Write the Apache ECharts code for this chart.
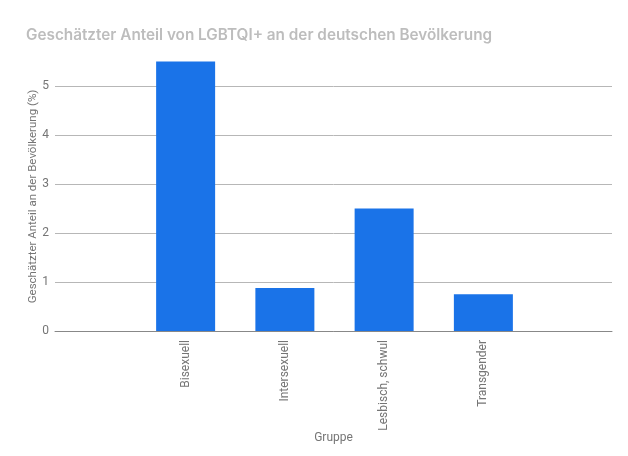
<!DOCTYPE html>
<html><head><meta charset="utf-8">
<script src="https://cdn.jsdelivr.net/npm/echarts@6/dist/echarts.min.js"></script>
<style>html,body{margin:0;padding:0;background:#fff}#c{width:628px;height:456px}</style>
</head><body><div id="c"></div>
<script>
const categories = ['Bisexuell', 'Intersexuell', 'Lesbisch, schwul', 'Transgender'];
const values = [5.5, 0.88, 2.5, 0.75];
const yTicks = [0, 1, 2, 3, 4, 5];

const chart = echarts.init(document.getElementById('c'), null, {renderer: 'canvas'});
const font = 'Roboto, Arial, sans-serif';
chart.setOption({
  animation: false,
  title: {
    text: 'Geschätzter Anteil von LGBTQI+ an der deutschen Bevölkerung',
    left: 21, top: 23,
    textStyle: {color: '#bdbdbd', fontSize: 15.3, fontWeight: 600, fontFamily: 'Inter, Roboto, sans-serif'}
  },
  grid: [
    {left: 55, right: 16, top: 86, bottom: 125},
    {left: 136, right: 95, top: 86, bottom: 125}
  ],
  xAxis: [
    {gridIndex: 0, type: 'category', data: [''], axisLine: {show: true, lineStyle: {color: '#888'}},
     axisTick: {show: false}, axisLabel: {show: false},
     name: 'Gruppe', nameLocation: 'middle', nameGap: 101, nameMoveOverlap: false,
     nameTextStyle: {color: '#757575', fontSize: 12, fontFamily: font}},
    {gridIndex: 1, type: 'category', data: categories, axisLine: {show: false}, axisTick: {show: false},
     axisLabel: {rotate: 90, margin: 9, color: '#757575', fontSize: 12, fontFamily: font}}
  ],
  yAxis: [
    {gridIndex: 0, type: 'value', min: yTicks[0], max: yTicks[yTicks.length-1], interval: 1,
     axisLine: {show: false}, axisTick: {show: false},
     axisLabel: {color: '#757575', fontSize: 12, fontFamily: font, margin: 6},
     splitLine: {lineStyle: {color: '#b7b7b7'}},
     name: 'Geschätzter Anteil an der Bevölkerung (%)', nameLocation: 'middle', nameGap: 16, nameMoveOverlap: false,
     nameTextStyle: {color: '#757575', fontSize: 11.5, fontFamily: font, padding: [0, 0, 0, 24]}},
    {gridIndex: 1, type: 'value', min: yTicks[0], max: yTicks[yTicks.length-1], interval: 1,
     show: false, splitLine: {show: false}}
  ],
  series: [{
    type: 'bar', xAxisIndex: 1, yAxisIndex: 1, data: values, barWidth: 59, clip: false,
    itemStyle: {color: '#1a73e8'}, z: 3
  }]
});
</script></body></html>
